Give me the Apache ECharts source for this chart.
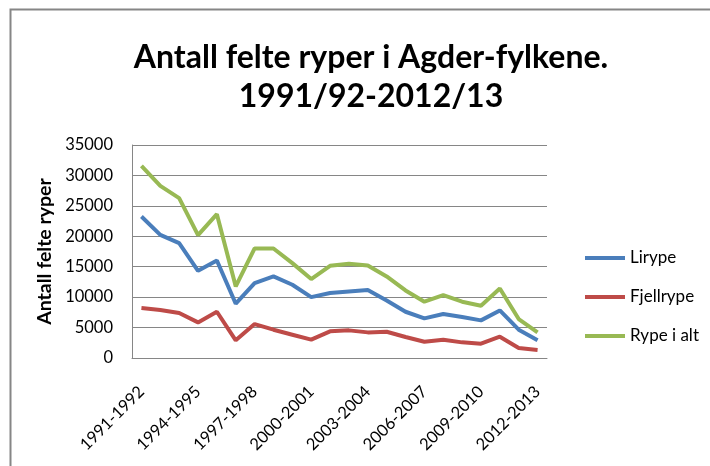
<!DOCTYPE html>
<html>
<head>
<meta charset="utf-8">
<script src="https://cdn.jsdelivr.net/npm/echarts@6/dist/echarts.min.js"></script>
<style>
  html, body { margin: 0; padding: 0; background: #fff; }
  #main { width: 710px; height: 466px; }
</style>
</head>
<body>
<div id="main"></div>
<script>
// seasons, one point per hunting season
const seasons = [
  '1991-1992', '1992-1993', '1993-1994', '1994-1995', '1995-1996', '1996-1997',
  '1997-1998', '1998-1999', '1999-2000', '2000-2001', '2001-2002', '2002-2003',
  '2003-2004', '2004-2005', '2005-2006', '2006-2007', '2007-2008', '2008-2009',
  '2009-2010', '2010-2011', '2011-2012', '2012-2013'
];
const lirype = [23250, 20240, 18870, 14330, 16030, 8920, 12310, 13400, 12040, 10010, 10670,
  10940, 11160, 9460, 7600, 6510, 7220, 6730, 6180, 7820, 4650, 2900];
const fjellrype = [8210, 7880, 7390, 5850, 7600, 2900, 5580, 4650, 3830, 3010, 4380,
  4540, 4210, 4320, 3450, 2680, 3010, 2570, 2350, 3500, 1640, 1310];
const rypeIAlt = [31560, 28280, 26260, 20190, 23630, 11760, 18000, 18000, 15590, 12970, 15150,
  15500, 15210, 13400, 11100, 9250, 10340, 9250, 8590, 11430, 6400, 4210];
const seriesNames = ['Lirype', 'Fjellrype', 'Rype i alt'];
const colors = ['#4A7EBB', '#BE4B48', '#98B954'];

const font = 'Lato, "Open Sans", sans-serif';

var myChart = echarts.init(document.getElementById('main'));

const lineSeries = [lirype, fjellrype, rypeIAlt].map((d, i) => ({
  name: seriesNames[i],
  type: 'line',
  data: d,
  showSymbol: false,
  symbol: 'none',
  lineStyle: { width: 4, color: colors[i] },
  itemStyle: { color: colors[i] }
}));

myChart.setOption({
  animation: false,
  textStyle: { fontFamily: font },
  title: {
    text: 'Antall felte ryper i Agder-fylkene.\n1991/92-2012/13',
    left: 366,
    top: 33,
    textAlign: 'center',
    textStyle: { fontFamily: font, fontWeight: 'bold', fontSize: 32, lineHeight: 39, color: '#000' }
  },
  graphic: [{
    type: 'rect',
    left: 8, top: 7,
    shape: { width: 800, height: 600 },
    style: { fill: 'none', stroke: '#868686', lineWidth: 2 },
    silent: true
  }],
  legend: {
    orient: 'vertical',
    left: 580,
    top: 243,
    itemWidth: 40,
    itemHeight: 4,
    itemGap: 19,
    icon: 'rect',
    textStyle: { fontFamily: font, fontSize: 17, lineHeight: 20, color: '#000' },
    data: seriesNames
  },
  grid: { left: 132, right: 163, top: 145, bottom: 108, containLabel: false },
  xAxis: {
    type: 'category',
    data: seasons,
    boundaryGap: true,
    axisLine: { show: true, lineStyle: { color: '#868686', width: 1 } },
    axisTick: { show: false },
    axisLabel: {
      interval: 2,
      rotate: 45,
      margin: 31,
      fontFamily: font,
      fontSize: 16.5,
      color: '#000'
    }
  },
  yAxis: {
    type: 'value',
    min: 0,
    max: 35000,
    interval: 5000,
    name: 'Antall felte ryper',
    nameLocation: 'middle',
    nameGap: 75,
    nameRotate: 90,
    nameTextStyle: { fontFamily: font, fontWeight: 'bold', fontSize: 19.5, color: '#000' },
    axisLine: { show: true, lineStyle: { color: '#868686', width: 1 } },
    axisTick: { show: false },
    splitLine: { lineStyle: { color: '#868686', width: 1 } },
    axisLabel: {
      margin: 19,
      fontFamily: font,
      fontSize: 16.5,
      color: '#000',
      formatter: v => String(v)
    }
  },
  series: lineSeries
});
</script>
</body>
</html>
